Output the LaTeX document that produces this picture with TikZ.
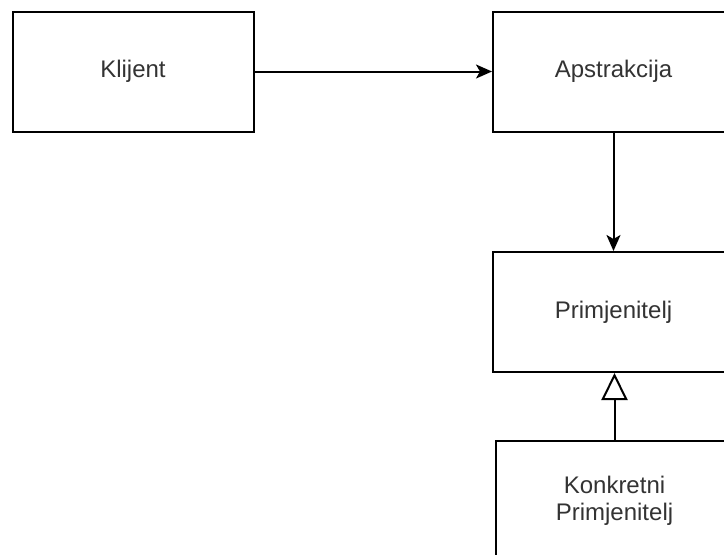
\documentclass[tikz,border=0pt]{standalone}
\usepackage{fontspec}
\setmainfont{Liberation Sans}
\usetikzlibrary{arrows.meta}
\definecolor{txt}{HTML}{333333}
\begin{document}
\begin{tikzpicture}[x=1pt,y=-1pt,
  box/.style={draw=black, line width=2pt, minimum width=241pt, minimum height=120pt,
    inner sep=0pt, font=\fontsize{24pt}{27pt}\selectfont, text=txt, align=center},
  conn/.style={draw=black, line width=2pt, -{Stealth[length=16pt,width=14pt,inset=4pt]}},
  inherit/.style={draw=black, line width=2pt, -{Triangle[open,length=27pt,width=26pt,line width=2pt]}}]
\useasboundingbox (0,0) rectangle (724,555);
\clip (0,0) rectangle (724,555);
\fill[white] (0,0) rectangle (724,555);
\node[box] (klijent) at (133,71.5) {Klijent};
\node[box] (apstr) at (613.5,71.5) {Apstrakcija};
\node[box] (primj) at (613.5,312) {Primjenitelj};
\node[box, minimum width=238pt] (konk) at (614.5,501) {Konkretni\\Primjenitelj};
\draw[conn] (klijent.east) -- (apstr.west);
\draw[conn] (apstr.south) -- (primj.north);
\draw[inherit] (konk.north) -- (konk.north |- primj.south);
\end{tikzpicture}
\end{document}
